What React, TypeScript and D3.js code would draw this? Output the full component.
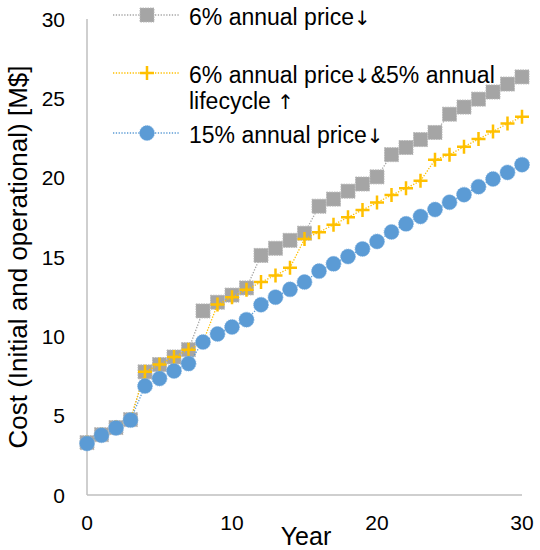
import React, { useEffect, useRef } from 'react';
import * as d3 from 'd3';

// Years on the x axis
const years = [0, 1, 2, 3, 4, 5, 6, 7, 8, 9, 10, 11, 12, 13, 14, 15, 16, 17, 18, 19, 20, 21, 22, 23, 24, 25, 26, 27, 28, 29, 30];

// Cost series [M$]
const price6 = [3.3, 3.8, 4.25, 4.75, 7.76, 8.22, 8.7, 9.16, 11.6, 12.15, 12.6, 13.05, 15.1, 15.55, 16.05, 16.5,
  18.2, 18.65, 19.15, 19.6, 20.05, 21.45, 21.9, 22.4, 22.85, 24.0, 24.45, 24.95, 25.4, 25.9, 26.35];
const price6Life5 = [3.3, 3.8, 4.25, 4.75, 7.76, 8.22, 8.7, 9.16, 9.64, 12.0, 12.47, 12.94, 13.42, 13.84, 14.32, 16.14,
  16.56, 17.04, 17.5, 17.97, 18.43, 18.9, 19.33, 19.8, 21.13, 21.45, 21.95, 22.43, 22.91, 23.41, 23.84];
const price15 = [3.25, 3.77, 4.23, 4.72, 6.87, 7.34, 7.82, 8.28, 9.64, 10.15, 10.59, 11.05, 11.99, 12.47, 12.96, 13.42,
  14.11, 14.57, 15.03, 15.51, 15.98, 16.58, 17.09, 17.55, 17.99, 18.45, 18.93, 19.43, 19.92, 20.33, 20.82];

const xTicks = [0, 10, 20, 30];
const yTicks = [0, 5, 10, 15, 20, 25, 30];

const GREY = '#a5a5a5';
const YELLOW = '#ffc000';
const BLUE = '#5b9bd5';
const FONT = '"Liberation Sans", Arial, sans-serif';
const ARROW_FONT = '"DejaVu Sans", sans-serif';

export default function App() {
  const svgRef = useRef<SVGSVGElement>(null);

  useEffect(() => {
    const svg = d3.select(svgRef.current);
    svg.selectAll('*').remove();

    const x = d3.scaleLinear().domain([0, 30]).range([87, 522]);
    const y = d3.scaleLinear().domain([0, 30]).range([495, 19]);

    // Axes (no ticks, light grey lines)
    svg.append('line')
      .attr('x1', x(0)).attr('x2', x(0))
      .attr('y1', y(0)).attr('y2', y(30))
      .style('stroke', '#bfbfbf').style('stroke-width', 1.5);
    svg.append('line')
      .attr('x1', x(0)).attr('x2', x(30))
      .attr('y1', y(0)).attr('y2', y(0))
      .style('stroke', '#bfbfbf').style('stroke-width', 1.5);

    svg.selectAll('.ytick')
      .data(yTicks)
      .enter()
      .append('text')
      .attr('x', 65)
      .attr('y', d => y(d) + 7.5)
      .attr('text-anchor', 'end')
      .style('font-family', FONT)
      .style('font-size', '21px')
      .style('fill', '#000')
      .text(d => d);

    svg.selectAll('.xtick')
      .data(xTicks)
      .enter()
      .append('text')
      .attr('x', d => x(d))
      .attr('y', 530)
      .attr('text-anchor', 'middle')
      .style('font-family', FONT)
      .style('font-size', '21px')
      .style('fill', '#000')
      .text(d => d);

    svg.append('text')
      .attr('x', 306)
      .attr('y', 545)
      .attr('text-anchor', 'middle')
      .style('font-family', FONT)
      .style('font-size', '25px')
      .text('Year');

    svg.append('text')
      .attr('transform', 'translate(27,257) rotate(-90)')
      .attr('text-anchor', 'middle')
      .style('font-family', FONT)
      .style('font-size', '26px')
      .text('Cost (Initial and operational) [M$]');

    const line = d3.line<number>()
      .x((_, i) => x(years[i]))
      .y(d => y(d));

    const drawLine = (values: number[], color: string) => {
      svg.append('path')
        .datum(values)
        .attr('d', line)
        .style('fill', 'none')
        .style('stroke', color)
        .style('stroke-width', 1.3)
        .style('stroke-dasharray', '1.3,1.5');
    };

    const square = (g: d3.Selection<SVGGElement, unknown, null, undefined>, cx: number, cy: number) => {
      g.append('rect')
        .attr('x', cx - 7).attr('y', cy - 7)
        .attr('width', 14).attr('height', 14)
        .style('fill', GREY)
        .style('stroke', '#b8b8b8')
        .style('stroke-width', 1)
        .style('stroke-dasharray', '1.5,1');
    };
    const plus = (g: d3.Selection<SVGGElement, unknown, null, undefined>, cx: number, cy: number) => {
      g.append('path')
        .attr('d', `M${cx - 7},${cy}H${cx + 7}M${cx},${cy - 7}V${cy + 7}`)
        .style('stroke', YELLOW)
        .style('stroke-width', 2.5)
        .style('fill', 'none');
    };
    const circle = (g: d3.Selection<SVGGElement, unknown, null, undefined>, cx: number, cy: number) => {
      g.append('circle')
        .attr('cx', cx).attr('cy', cy).attr('r', 7.5)
        .style('fill', BLUE)
        .style('stroke', '#7eb0de')
        .style('stroke-width', 0.8)
        .style('stroke-dasharray', '1.2,1');
    };

    const series = [
      { label: ['6% annual price↓'], values: price6, color: GREY, marker: square, ly: 15 },
      { label: ['6% annual price↓&5% annual', 'lifecycle ↑'], values: price6Life5, color: YELLOW, marker: plus, ly: 73 },
      { label: ['15% annual price↓'], values: price15, color: BLUE, marker: circle, ly: 133 },
    ];

    series.forEach(s => {
      drawLine(s.values, s.color);
      const g = svg.append('g');
      s.values.forEach((v, i) => s.marker(g, x(years[i]), y(v)));
    });

    // Legend
    series.forEach(s => {
      const g = svg.append('g');
      g.append('line')
        .attr('x1', 113).attr('x2', 180)
        .attr('y1', s.ly).attr('y2', s.ly)
        .style('stroke', s.color)
        .style('stroke-width', 1.3)
        .style('stroke-dasharray', '1.3,1.5');
      s.marker(g, 147, s.ly);
      s.label.forEach((t, i) => {
        const text = g.append('text')
          .attr('x', 189)
          .attr('y', s.ly + 10 + i * 26)
          .style('font-family', FONT)
          .style('font-size', '23px')
          .style('fill', '#000');
        // arrows come from a font with taller arrow glyphs
        t.split(/([↑↓])/).filter(p => p.length).forEach(p => {
          const span = text.append('tspan').text(p);
          if (p === '↑' || p === '↓') {
            span.style('font-family', ARROW_FONT).style('font-size', '20px');
          }
        });
      });
    });
  }, []);

  return (
    <svg
      ref={svgRef}
      width={540}
      height={550}
      style={{ position: 'absolute', left: 0, top: 0, background: '#fff' }}
    />
  );
}
